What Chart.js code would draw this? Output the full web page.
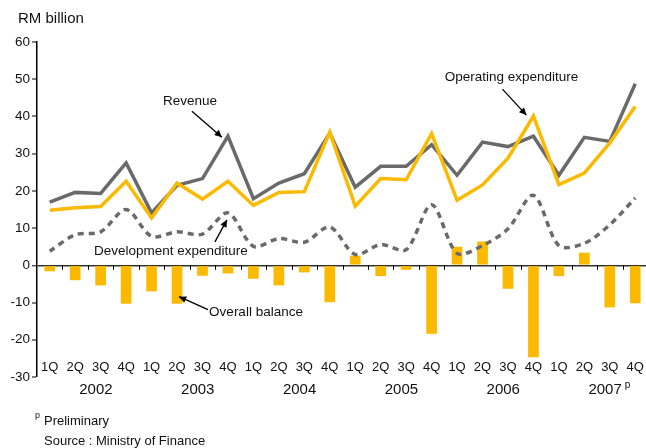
<!DOCTYPE html>
<html>
<head>
	<meta charset="UTF-8">
	<title>Federal government finance</title>
	<script src="https://cdn.jsdelivr.net/npm/chart.js@4.4.1/dist/chart.umd.min.js"></script>
	<style>
		html, body { margin: 0; padding: 0; background: #fff; overflow: hidden; }
		#wrap { position: relative; width: 648px; height: 448px; }
	</style>
</head>
<body>
	<div id="wrap"><canvas id="chart"></canvas></div>
	<script>
	// quarters 2002 - 2007, RM billion
	const quarters = ['1Q','2Q','3Q','4Q'];
	const years = ['2002','2003','2004','2005','2006','2007'];
	const revenue = [17.0,19.6,19.3,27.5,14.1,21.5,23.3,34.7,17.9,22.1,24.6,35.5,21.0,26.6,26.6,32.4,24.2,33.1,31.9,34.7,24.2,34.4,33.3,48.8];
	const operating = [14.8,15.5,15.8,22.6,12.7,22.1,17.8,22.6,16.1,19.6,19.8,35.8,15.9,23.3,23.0,35.4,17.5,21.6,28.8,40.1,21.7,24.8,32.9,42.7];
	const development = [3.8,8.2,9.0,15.0,7.8,9.0,8.4,14.1,5.1,7.2,6.2,10.3,2.9,5.6,4.2,16.3,3.2,5.3,9.8,18.8,5.3,5.9,10.9,18.1];
	const balance = [-1.6,-4.0,-5.4,-10.3,-7.0,-10.3,-2.8,-2.2,-3.6,-5.4,-1.9,-9.9,2.6,-2.9,-1.2,-18.4,5.0,6.4,-6.3,-24.7,-2.9,3.4,-11.3,-10.2];
	const yTicks = [60,50,40,30,20,10,0,-10,-20,-30];

	const labels = [];
	years.forEach(y => quarters.forEach(q => labels.push(q + ' ' + y)));

	const YELLOW = '#FBBA00';
	const GREY = '#6a6a6a';
	const FONT = '"Liberation Sans", Arial, sans-serif';

	// callouts, anchored on a data point; offsets in px
	const notes = [
		{text:'Revenue', data:revenue, i:7, tip:[-6,1], tail:[-36,-25], label:[-38,-35]},
		{text:'Operating expenditure', data:operating, i:19, tip:[-7,-1], tail:[-31,-27], label:[-22,-39]},
		{text:'Development expenditure', data:development, i:7, tip:[-1,7], tail:[-13,29], label:[-57,38]},
		{text:'Overall balance', data:balance, i:5, tip:[2,-7], tail:[31,6], label:[79,9]}
	];

	function arrow(ctx, x1, y1, x2, y2){
		ctx.beginPath();
		ctx.moveTo(x1, y1);
		ctx.lineTo(x2, y2);
		ctx.stroke();
		let a = Math.atan2(y2 - y1, x2 - x1);
		let h = 8, w = 0.45;
		ctx.beginPath();
		ctx.moveTo(x2, y2);
		ctx.lineTo(x2 - h*Math.cos(a - w), y2 - h*Math.sin(a - w));
		ctx.lineTo(x2 - h*Math.cos(a + w), y2 - h*Math.sin(a + w));
		ctx.closePath();
		ctx.fill();
	}

	const extras = {
		id: 'extras',
		afterDatasetsDraw(chart){
			let ctx = chart.ctx;
			let xs = chart.scales.x, ys = chart.scales.y;
			let area = chart.chartArea;
			let step = xs.getPixelForValue(1) - xs.getPixelForValue(0);
			let y0 = ys.getPixelForValue(0);
			ctx.save();
			// category ticks on the zero line
			ctx.strokeStyle = '#000';
			ctx.lineWidth = 1;
			for(let i = 1; i < labels.length; i++){
				let x = Math.round(xs.getPixelForValue(i) - step/2) + 0.5;
				ctx.beginPath();
				ctx.moveTo(x, y0);
				ctx.lineTo(x, y0 + 4.5);
				ctx.stroke();
			}
			// quarter and year labels
			ctx.fillStyle = '#111';
			ctx.textAlign = 'center';
			ctx.textBaseline = 'middle';
			ctx.font = '13px ' + FONT;
			for(let i = 0; i < labels.length; i++){
				ctx.fillText(quarters[i % 4], xs.getPixelForValue(i), area.bottom - 10);
			}
			ctx.font = '15px ' + FONT;
			years.forEach((y, k) => {
				let cx = (xs.getPixelForValue(k*4 + 1) + xs.getPixelForValue(k*4 + 2))/2 + 8;
				ctx.fillText(y, cx, area.bottom + 13);
				if(k === years.length - 1){
					let w = ctx.measureText(y).width;
					ctx.font = '10px ' + FONT;
					ctx.textAlign = 'left';
					ctx.fillText('p', cx + w/2 + 3, area.bottom + 8);
				}
			});
			// callouts
			ctx.strokeStyle = '#000';
			ctx.fillStyle = '#000';
			ctx.lineWidth = 1.3;
			ctx.textAlign = 'center';
			ctx.font = '13.5px ' + FONT;
			notes.forEach(n => {
				let px = xs.getPixelForValue(n.i);
				let py = ys.getPixelForValue(n.data[n.i]);
				arrow(ctx, px + n.tail[0], py + n.tail[1], px + n.tip[0], py + n.tip[1]);
				ctx.fillStyle = '#111';
				ctx.fillText(n.text, px + n.label[0], py + n.label[1]);
				ctx.fillStyle = '#000';
			});
			// unit and footnotes
			ctx.fillStyle = '#111';
			ctx.textAlign = 'left';
			ctx.font = '15px ' + FONT;
			ctx.fillText('RM billion', 18, 19);
			ctx.font = '9px ' + FONT;
			ctx.fillText('p', 35, 416);
			ctx.font = '13px ' + FONT;
			ctx.fillText('Preliminary', 44, 421);
			ctx.fillText('Source : Ministry of Finance', 44, 441);
			ctx.restore();
		}
	};

	new Chart(document.getElementById('chart'), {
		type: 'bar',
		data: {
			labels: labels,
			datasets: [
				{
					type: 'line',
					label: 'Operating expenditure',
					data: operating,
					borderColor: YELLOW,
					borderWidth: 3.5,
					pointRadius: 0,
					tension: 0,
					order: 1
				},
				{
					type: 'line',
					label: 'Revenue',
					data: revenue,
					borderColor: GREY,
					borderWidth: 3.5,
					pointRadius: 0,
					tension: 0,
					order: 2
				},
				{
					type: 'line',
					label: 'Development expenditure',
					data: development,
					borderColor: GREY,
					borderWidth: 3.5,
					borderDash: [6, 5],
					pointRadius: 0,
					tension: 0.3,
					order: 3
				},
				{
					label: 'Overall balance',
					data: balance,
					backgroundColor: YELLOW,
					categoryPercentage: 0.42,
					barPercentage: 1,
					order: 4
				}
			]
		},
		options: {
			responsive: true,
			maintainAspectRatio: false,
			animation: false,
			layout: { padding: { top: 42, bottom: 71, left: 0, right: 0 } },
			plugins: { legend: { display: false }, tooltip: { enabled: false } },
			scales: {
				x: { display: false, offset: true },
				y: {
					min: -30,
					max: 60,
					afterFit(scale){ scale.width = 37; },
					afterBuildTicks(scale){ scale.ticks = yTicks.map(v => ({value: v})); },
					border: { display: true, color: '#000', width: 1.5 },
					grid: {
						drawOnChartArea: true,
						color: c => (c.tick && c.tick.value === 0) ? '#333' : 'rgba(0,0,0,0)',
						lineWidth: c => (c.tick && c.tick.value === 0) ? 1.6 : 0,
						tickColor: '#000',
						tickLength: 5,
						tickWidth: 1
					},
					ticks: {
						color: '#111',
						padding: 2,
						font: { family: FONT, size: 13.5 }
					}
				}
			}
		},
		plugins: [extras]
	});
	</script>
</body>
</html>
